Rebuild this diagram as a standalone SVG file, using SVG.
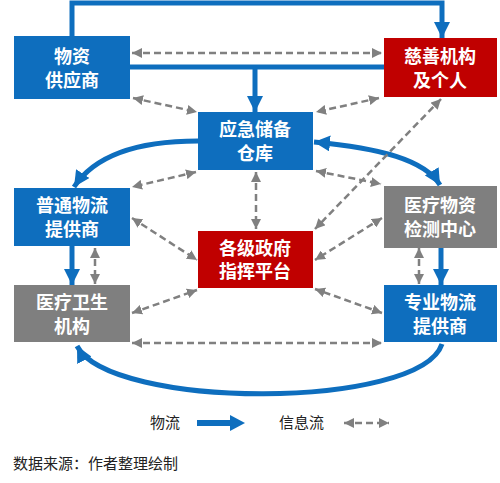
<svg xmlns="http://www.w3.org/2000/svg" width="500" height="483" viewBox="0 0 500 483">
<defs>
<style>
.blue{fill:#0E6EBE}
.red{fill:#C00000}
.gray{fill:#7F7F7F}
.lbl{font-family:"Liberation Sans","Noto Sans CJK SC",sans-serif;font-size:18px;font-weight:bold;fill:#fff;text-anchor:middle}
.flow{fill:none;stroke:#0E6EBE;stroke-width:5}
.info{fill:none;stroke:#808080;stroke-width:2.5;stroke-dasharray:7 4}
.leg{font-family:"Liberation Sans","Noto Sans CJK SC",sans-serif;font-size:15px;fill:#222}
</style>
<marker id="ab" markerUnits="userSpaceOnUse" markerWidth="16" markerHeight="16" viewBox="0 0 16 16" refX="16" refY="8" orient="auto-start-reverse">
<path d="M0,0 L16,8 L0,16 Z" fill="#0E6EBE"/>
</marker>
<marker id="ag" markerUnits="userSpaceOnUse" markerWidth="10" markerHeight="10" viewBox="0 0 10 10" refX="10" refY="5" orient="auto-start-reverse">
<path d="M0,0 L10,5 L0,10 Z" fill="#808080"/>
</marker>
</defs>
<rect width="500" height="483" fill="#fff"/>

<g id="connectors">
<path class="flow" d="M72,36 V3 H442 V38" marker-end="url(#ab)"/>
<path class="flow" d="M130,67 H384"/>
<path class="flow" d="M255,67 V112" marker-end="url(#ab)"/>
<path class="flow" d="M198,141 C140,141 95,155 74,187" marker-end="url(#ab)"/>
<path class="flow" d="M314,142 C380,148 425,160 440,185" marker-start="url(#ab)" marker-end="url(#ab)"/>
<path class="flow" d="M72,246 V285" marker-end="url(#ab)"/>
<path class="flow" d="M441,248 V285" marker-end="url(#ab)"/>
<path class="flow" d="M442,344 C420,410 110,410 77,346" marker-end="url(#ab)"/>
<path class="info" d="M132,53 H382" marker-start="url(#ag)" marker-end="url(#ag)"/>
<path class="info" d="M133,98 L197,112" marker-start="url(#ag)" marker-end="url(#ag)"/>
<path class="info" d="M379,98 L316,112" marker-start="url(#ag)" marker-end="url(#ag)"/>
<path class="info" d="M441,99 L315,229" marker-start="url(#ag)" marker-end="url(#ag)"/>
<path class="info" d="M196,172 L132,187" marker-start="url(#ag)" marker-end="url(#ag)"/>
<path class="info" d="M316,171 L381,184" marker-start="url(#ag)" marker-end="url(#ag)"/>
<path class="info" d="M256,172 V229" marker-start="url(#ag)" marker-end="url(#ag)"/>
<path class="info" d="M132,218 L197,260" marker-start="url(#ag)" marker-end="url(#ag)"/>
<path class="info" d="M132,313 L197,290" marker-start="url(#ag)" marker-end="url(#ag)"/>
<path class="info" d="M382,218 L315,260" marker-start="url(#ag)" marker-end="url(#ag)"/>
<path class="info" d="M382,313 L315,289" marker-start="url(#ag)" marker-end="url(#ag)"/>
<path class="info" d="M95,248 V284" marker-start="url(#ag)" marker-end="url(#ag)"/>
<path class="info" d="M419,248 V284" marker-start="url(#ag)" marker-end="url(#ag)"/>
<path class="info" d="M132,343 H382" marker-start="url(#ag)" marker-end="url(#ag)"/>
</g>

<g id="n1"><rect class="blue" x="14" y="36" width="116" height="63"/><text class="lbl" x="72" y="63">物资</text><text class="lbl" x="72" y="87">供应商</text></g>
<g id="n2"><rect class="red" x="384" y="38" width="113" height="59"/><text class="lbl" x="440" y="63">慈善机构</text><text class="lbl" x="440" y="87">及个人</text></g>
<g id="n3"><rect class="blue" x="198" y="112" width="115" height="58"/><text class="lbl" x="255" y="136">应急储备</text><text class="lbl" x="255" y="160">仓库</text></g>
<g id="n4"><rect class="blue" x="14" y="188" width="116" height="58"/><text class="lbl" x="72" y="212">普通物流</text><text class="lbl" x="72" y="236">提供商</text></g>
<g id="n5"><rect class="red" x="198" y="231" width="115" height="57"/><text class="lbl" x="255" y="255">各级政府</text><text class="lbl" x="255" y="278">指挥平台</text></g>
<g id="n6"><rect class="gray" x="384" y="186" width="113" height="62"/><text class="lbl" x="440" y="212">医疗物资</text><text class="lbl" x="440" y="236">检测中心</text></g>
<g id="n7"><rect class="gray" x="14" y="285" width="116" height="57"/><text class="lbl" x="72" y="309">医疗卫生</text><text class="lbl" x="72" y="333">机构</text></g>
<g id="n8"><rect class="blue" x="384" y="285" width="113" height="57"/><text class="lbl" x="440" y="309">专业物流</text><text class="lbl" x="440" y="333">提供商</text></g>

<g id="legend">
<text class="leg" x="150" y="428">物流</text>
<path d="M197,423 H232" stroke="#0E6EBE" stroke-width="6" fill="none"/>
<path d="M230,415 L245,423 L230,431 Z" fill="#0E6EBE"/>
<text class="leg" x="279" y="428">信息流</text>
<path class="info" d="M344,423 H389" stroke-dasharray="5 4" marker-start="url(#ag)" marker-end="url(#ag)"/>
<text class="leg" x="13" y="469">数据来源：作者整理绘制</text>
</g>
</svg>
